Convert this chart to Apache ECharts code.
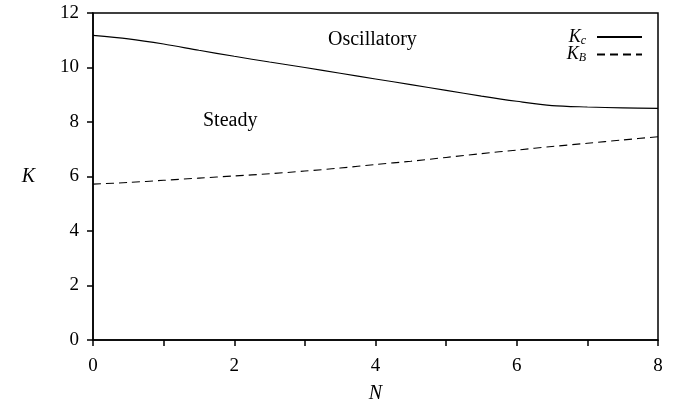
<!DOCTYPE html>
<html>
<head>
<meta charset="utf-8">
<script src="https://cdn.jsdelivr.net/npm/echarts@6/dist/echarts.min.js"></script>
<style>html,body{margin:0;padding:0;background:#fff}#c{width:680px;height:401px}</style>
</head>
<body>
<div id="c"></div>
<script>
const N = [0, 0.5, 1, 1.5, 2, 2.5, 3, 3.5, 4, 4.5, 5, 5.5, 6, 6.5, 7, 7.5, 8];
const Kc = [11.18, 11.05, 10.86, 10.63, 10.41, 10.2, 10.0, 9.79, 9.58, 9.37, 9.16, 8.95, 8.76, 8.6, 8.55, 8.52, 8.5];
const KB = [5.72, 5.78, 5.86, 5.94, 6.02, 6.1, 6.2, 6.31, 6.44, 6.56, 6.7, 6.84, 6.97, 7.1, 7.22, 7.34, 7.46];
const xTicks = [0, 2, 4, 6, 8];
const yTicks = [0, 2, 4, 6, 8, 10, 12];

const FONT = 'Liberation Serif';
const chart = echarts.init(document.getElementById('c'), null, {renderer: 'canvas'});
const pair = (xs, ys) => xs.map((x, i) => [x, ys[i]]);
chart.setOption({
  animation: false,
  backgroundColor: '#fff',
  grid: {left: 93, right: 22, top: 13, bottom: 61, show: true, borderColor: '#000', borderWidth: 1.5,
    containLabel: false, outerBoundsMode: 'none'},
  legend: {
    right: 32, top: 23, orient: 'vertical', align: 'right', itemGap: -1,
    itemWidth: 45, itemHeight: 16,
    itemStyle: {opacity: 0},
    textStyle: {fontFamily: FONT, fontSize: 18, fontStyle: 'italic', color: '#000', padding: [0, 6, 0, 0],
      rich: {s: {fontFamily: FONT, fontSize: 12, fontStyle: 'italic', verticalAlign: 'bottom', padding: [7, 0, 0, 0]}}},
    formatter: n => n === 'Kc' ? 'K{s|c}' : 'K{s|B}',
    data: ['Kc', 'KB']
  },
  xAxis: {
    type: 'value', min: 0, max: 8, interval: 1,
    name: 'N', nameLocation: 'middle', nameGap: 44,
    nameTextStyle: {fontFamily: FONT, fontSize: 20, fontStyle: 'italic', color: '#000'},
    axisLine: {lineStyle: {color: '#000', width: 1.5}},
    axisTick: {show: true, length: 6, lineStyle: {color: '#000', width: 1.5}},
    axisLabel: {fontFamily: FONT, fontSize: 19, color: '#000', margin: 17,
      formatter: v => xTicks.includes(v) ? String(v) : ''},
    splitLine: {show: false}
  },
  yAxis: {
    type: 'value', min: 0, max: 12, interval: 2,
    name: 'K', nameLocation: 'middle', nameGap: 58, nameRotate: 0,
    nameTextStyle: {fontFamily: FONT, fontSize: 20, fontStyle: 'italic', color: '#000'},
    axisLine: {lineStyle: {color: '#000', width: 1.5}},
    axisTick: {show: true, length: 6, lineStyle: {color: '#000', width: 1.5}},
    axisLabel: {fontFamily: FONT, fontSize: 19, color: '#000', margin: 14,
      formatter: v => yTicks.includes(v) ? String(v) : ''},
    splitLine: {show: false}
  },
  graphic: [
    {type: 'text', left: 328, top: 30, style: {text: 'Oscillatory', font: '20px "Liberation Serif"', fill: '#000'}},
    {type: 'text', left: 203, top: 111, style: {text: 'Steady', font: '20px "Liberation Serif"', fill: '#000'}}
  ],
  series: [
    {name: 'Kc', type: 'line', data: pair(N, Kc), symbol: 'none', smooth: 0.3,
      lineStyle: {color: '#000', width: 1.1, type: 'solid'}, itemStyle: {color: '#000'}},
    {name: 'KB', type: 'line', data: pair(N, KB), symbol: 'none', smooth: 0.3,
      lineStyle: {color: '#000', width: 1.1, type: [8, 5]}, itemStyle: {color: '#000'}}
  ]
});
</script>
</body>
</html>
